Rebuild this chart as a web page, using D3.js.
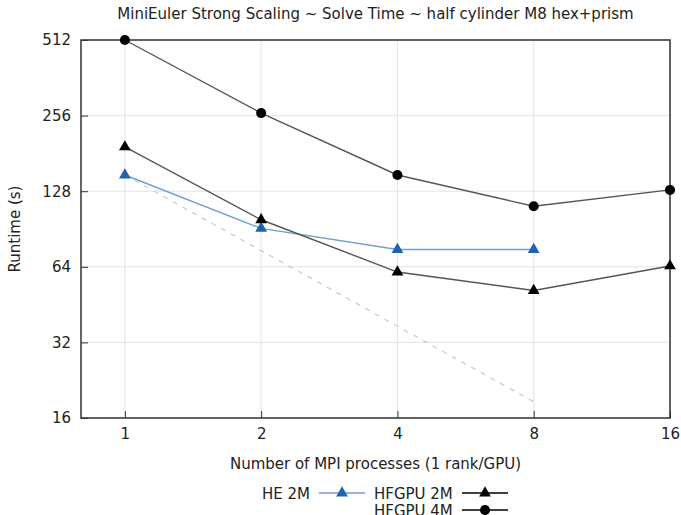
<!DOCTYPE html>
<html>
<head>
<meta charset="utf-8">
<script src="https://cdn.jsdelivr.net/npm/d3@7"></script>
<style>
  body { margin: 0; background: #fff; }
  text { font-family: "DejaVu Sans", sans-serif; fill: #222; }
</style>
</head>
<body>
<svg id="chart" width="681" height="515"></svg>
<script>
// data
var procs = [1, 2, 4, 8, 16];
var he2m = [148.5, 91, 75, 75];
var hfgpu2m = [192, 98.5, 61, 51.5, 64.5];
var hfgpu4m = [512, 262, 148.5, 111.5, 129.5];
var idealX = [1, 8];
var idealY = [148.5, 148.5 / 8];
var yTicks = [16, 32, 64, 128, 256, 512];

var margin = {top: 40, right: 11, bottom: 97, left: 81};
var width = 681 - margin.left - margin.right,
    height = 515 - margin.top - margin.bottom;

var svg = d3.select("#chart")
  .append("g")
  .attr("transform", "translate(" + margin.left + "," + margin.top + ")");

var x = d3.scaleLog().base(2).domain([0.8, 16]).range([0, width]);
var y = d3.scaleLog().base(2).domain([16, 512]).range([height, 0]);

// grid
svg.append("g").selectAll("line").data(procs).enter().append("line")
  .attr("x1", function(d) { return x(d); }).attr("x2", function(d) { return x(d); })
  .attr("y1", 0).attr("y2", height)
  .attr("stroke", "#e3e3e3").attr("stroke-width", 1);
svg.append("g").selectAll("line").data(yTicks).enter().append("line")
  .attr("x1", 0).attr("x2", width)
  .attr("y1", function(d) { return y(d); }).attr("y2", function(d) { return y(d); })
  .attr("stroke", "#e3e3e3").attr("stroke-width", 1);

// axes
var xAxis = svg.append("g")
  .attr("transform", "translate(0," + height + ")")
  .call(d3.axisBottom(x).tickValues(procs).tickFormat(d3.format("d")).tickSizeInner(-7).tickSizeOuter(0).tickPadding(10));
var yAxis = svg.append("g")
  .call(d3.axisLeft(y).tickValues(yTicks).tickFormat(d3.format("d")).tickSizeInner(-7).tickSizeOuter(0).tickPadding(10));
[xAxis, yAxis].forEach(function(a) {
  a.select(".domain").remove();
  a.selectAll(".tick line").attr("stroke", "#333");
  a.selectAll("text").style("font-size", "15px").style("font-family", "DejaVu Sans, sans-serif").attr("fill", "#222");
});

// frame
svg.append("rect")
  .attr("x", 0).attr("y", 0).attr("width", width).attr("height", height)
  .attr("fill", "none").attr("stroke", "#333").attr("stroke-width", 1.5);

// ideal scaling line
svg.append("path")
  .datum(idealX.map(function(d, i) { return [d, idealY[i]]; }))
  .attr("d", d3.line().x(function(d) { return x(d[0]); }).y(function(d) { return y(d[1]); }))
  .attr("fill", "none").attr("stroke", "#c8c8c8").attr("stroke-width", 1.2)
  .attr("stroke-dasharray", "5,6");

var line = d3.line().x(function(d) { return x(d[0]); }).y(function(d) { return y(d[1]); });
var tri = d3.symbol().type(d3.symbolTriangle).size(60);
var circ = d3.symbol().type(d3.symbolCircle).size(80);

var series = [
  {name: "HE 2M", vals: he2m, line: "#6f9fd0", mark: "#1f63b0", sym: tri},
  {name: "HFGPU 2M", vals: hfgpu2m, line: "#555", mark: "#000", sym: tri},
  {name: "HFGPU 4M", vals: hfgpu4m, line: "#555", mark: "#000", sym: circ}
];

series.forEach(function(s) {
  var pts = s.vals.map(function(v, i) { return [procs[i], v]; });
  svg.append("path").datum(pts)
    .attr("d", line)
    .attr("fill", "none").attr("stroke", s.line).attr("stroke-width", 1.4);
  svg.append("g").selectAll("path").data(pts).enter().append("path")
    .attr("d", s.sym)
    .attr("transform", function(d) { return "translate(" + x(d[0]) + "," + y(d[1]) + ")"; })
    .attr("fill", s.mark);
});

// title & labels
d3.select("#chart").append("text")
  .attr("x", margin.left + width / 2).attr("y", 19).attr("text-anchor", "middle")
  .style("font-size", "15px")
  .text("MiniEuler Strong Scaling ~ Solve Time ~ half cylinder M8 hex+prism");
d3.select("#chart").append("text")
  .attr("x", margin.left + width / 2).attr("y", 469).attr("text-anchor", "middle")
  .style("font-size", "15px")
  .text("Number of MPI processes (1 rank/GPU)");
d3.select("#chart").append("text")
  .attr("transform", "translate(20," + (margin.top + height / 2) + ") rotate(-90)")
  .attr("text-anchor", "middle")
  .style("font-size", "15px")
  .text("Runtime (s)");

// legend
var leg = d3.select("#chart").append("g");
var legItems = [
  {s: series[0], tx: 310, anchor: "end", lx: 319, ly: 493},
  {s: series[1], tx: 374, anchor: "start", lx: 462, ly: 493},
  {s: series[2], tx: 374, anchor: "start", lx: 462, ly: 510}
];
legItems.forEach(function(it) {
  leg.append("text")
    .attr("x", it.tx).attr("y", it.ly + 5.5).attr("text-anchor", it.anchor)
    .style("font-size", "15px").text(it.s.name);
  leg.append("line")
    .attr("x1", it.lx).attr("x2", it.lx + 46).attr("y1", it.ly).attr("y2", it.ly)
    .attr("stroke", it.s.name == "HE 2M" ? it.s.line : "#000").attr("stroke-width", 1.3);
  leg.append("path")
    .attr("d", it.s.sym)
    .attr("transform", "translate(" + (it.lx + 23) + "," + it.ly + ")")
    .attr("fill", it.s.mark);
});
</script>
</body>
</html>
